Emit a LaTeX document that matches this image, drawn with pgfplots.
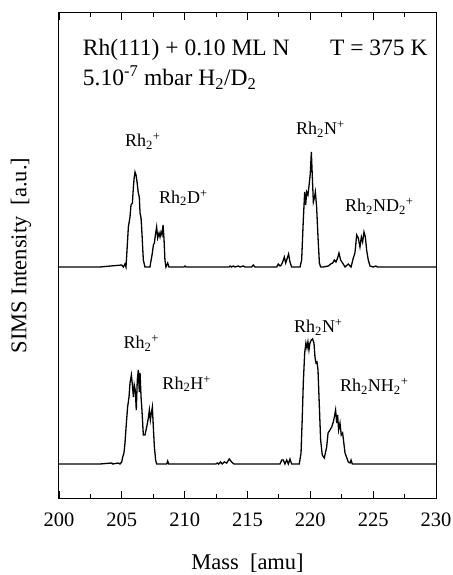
\documentclass[border=0pt]{standalone}
\usepackage{fontspec}
\setmainfont{Liberation Serif}
\usepackage{pgfplots}
\pgfplotsset{compat=1.18}
\newcommand{\lab}{\fontsize{18bp}{21bp}\selectfont}
\newcommand{\bigtxt}{\fontsize{23.5bp}{27bp}\selectfont}
\begin{document}
\begin{tikzpicture}
\useasboundingbox (-59bp,-77bp) rectangle (394bp,498bp);
\begin{axis}[
  scale only axis, width=377bp, height=485bp,
  xmin=200, xmax=230, ymin=0, ymax=485,
  xtick={200,205,...,230}, minor x tick num=1,
  ytick=\empty,
  tick align=inside,
  major tick length=7bp, minor tick length=4bp,
  axis line style={line width=1bp},
  every tick/.style={line width=0.9bp, black},
  /pgf/number format/assume math mode=true,
  /pgf/number format/1000 sep={},
  ticklabel style={font=\fontsize{20.5bp}{24bp}\selectfont},
  xticklabel style={yshift=-11bp},
  xlabel={Mass\ \ [amu]},
  ylabel={SIMS Intensity\ \ [a.u.]},
  every axis x label/.style={at={(axis description cs:0.5,0)}, yshift=-65bp, anchor=center, font=\fontsize{22.5bp}{26bp}\selectfont},
  every axis y label/.style={at={(axis description cs:0,0.5)}, xshift=-38bp, rotate=90, anchor=center, font=\fontsize{22.5bp}{26bp}\selectfont},
  clip=false,
]
\addplot[black, line width=1.3bp] coordinates {
(200,231) (203.26,231) (204.99,233) (205.12,231) (205.25,234) (205.33,231) (205.38,241) (205.52,271) (205.65,281) (205.73,293) (205.84,295) (205.92,311) (205.99,321) (206.05,326) (206.13,323) (206.21,316) (206.31,305) (206.39,301) (206.45,285) (206.53,280) (206.60,265) (206.71,238) (206.84,231) (207.24,231) (207.29,235) (207.43,245) (207.51,253) (207.59,255) (207.67,263) (207.77,271) (207.85,260) (207.96,265) (208.04,261) (208.12,266) (208.20,263) (208.28,273) (208.36,258) (208.43,238) (208.51,231) (208.65,235) (208.75,231) (209.95,231) (210.03,232) (210.11,231) (213.55,231) (213.61,232) (213.74,231) (213.87,232) (214.00,231) (214.27,232) (214.40,231) (214.67,232) (214.80,231) (215.33,231) (215.46,233) (215.59,231) (217.32,231) (217.45,234) (217.59,232) (217.69,233) (217.80,236) (217.93,241) (218.04,235) (218.17,240) (218.27,244) (218.38,236) (218.51,231) (219.18,231) (219.31,238) (219.44,278) (219.55,306) (219.63,293) (219.71,306) (219.81,303) (219.92,315) (220.00,325) (220.08,346) (220.16,321) (220.24,296) (220.32,300) (220.40,306) (220.50,291) (220.61,261) (220.72,235) (220.82,231) (221.03,231) (221.43,232) (221.62,234) (221.78,235) (221.91,238) (222.04,236) (222.17,240) (222.28,245) (222.41,238) (222.57,235) (222.76,231) (223.02,234) (223.24,231) (223.42,240) (223.55,245) (223.69,263) (223.82,260) (223.95,251) (224.06,261) (224.16,256) (224.27,266) (224.38,261) (224.48,248) (224.61,238) (224.75,232) (225.01,231) (225.22,232) (225.33,231) (230,231)
};
\addplot[black, line width=1.3bp] coordinates {
(200,34) (203.26,34) (204.19,35) (204.27,34) (204.72,35) (204.85,34) (204.99,36) (205.07,41) (205.17,45) (205.25,55) (205.38,78) (205.46,91) (205.57,101) (205.65,115) (205.76,123) (205.84,113) (205.92,101) (205.99,113) (206.07,108) (206.15,88) (206.23,118) (206.31,128) (206.39,106) (206.45,125) (206.53,101) (206.60,88) (206.71,63) (206.84,63) (206.98,71) (207.11,80) (207.19,88) (207.27,78) (207.35,85) (207.43,91) (207.51,70) (207.59,51) (207.69,38) (207.77,34) (208.57,34) (208.65,37) (208.73,34) (212.49,34) (212.60,35) (212.70,34) (212.86,36) (212.99,34) (213.16,36) (213.34,35) (213.55,39) (213.74,36) (213.92,34) (217.32,34) (217.59,34) (217.72,38) (217.85,38) (217.98,34) (218.12,38) (218.25,34) (218.38,39) (218.51,34) (219.12,34) (219.26,45) (219.36,81) (219.44,115) (219.55,145) (219.65,155) (219.73,150) (219.81,156) (219.89,148) (219.97,155) (220.08,158) (220.18,159) (220.29,155) (220.37,141) (220.45,135) (220.53,136) (220.61,128) (220.72,91) (220.82,58) (220.95,43) (221.11,40) (221.30,51) (221.41,65) (221.56,68) (221.70,71) (221.83,76) (221.94,83) (222.01,88) (222.10,75) (222.17,83) (222.25,68) (222.36,75) (222.46,63) (222.57,65) (222.76,45) (223.02,36) (223.16,35) (223.24,38) (223.34,34) (230,34)
};
\node[anchor=base west, inner sep=0, font=\bigtxt] at (axis cs:201.89,442.5) {Rh(111) + 0.10 ML N};
\node[anchor=base west, inner sep=0, font=\bigtxt] at (axis cs:221.56,442.5) {T = 375 K};
\node[anchor=base west, inner sep=0, font=\bigtxt] at (axis cs:201.89,412) {5.10\textsuperscript{-7} mbar H\textsubscript{2}/D\textsubscript{2}};
\node[anchor=base west, inner sep=0, font=\lab] at (axis cs:205.25,351.3) {Rh\textsubscript{2}\textsuperscript{+}};
\node[anchor=base west, inner sep=0, font=\lab] at (axis cs:207.96,294.7) {Rh\textsubscript{2}D\textsuperscript{+}};
\node[anchor=base west, inner sep=0, font=\lab] at (axis cs:218.86,363) {Rh\textsubscript{2}N\textsuperscript{+}};
\node[anchor=base west, inner sep=0, font=\lab] at (axis cs:222.76,286.3) {Rh\textsubscript{2}ND\textsubscript{2}\textsuperscript{+}};
\node[anchor=base west, inner sep=0, font=\lab] at (axis cs:205.12,149) {Rh\textsubscript{2}\textsuperscript{+}};
\node[anchor=base west, inner sep=0, font=\lab] at (axis cs:208.22,108.7) {Rh\textsubscript{2}H\textsuperscript{+}};
\node[anchor=base west, inner sep=0, font=\lab] at (axis cs:218.70,165.3) {Rh\textsubscript{2}N\textsuperscript{+}};
\node[anchor=base west, inner sep=0, font=\lab] at (axis cs:222.36,106.3) {Rh\textsubscript{2}NH\textsubscript{2}\textsuperscript{+}};
\end{axis}
\end{tikzpicture}
\end{document}
